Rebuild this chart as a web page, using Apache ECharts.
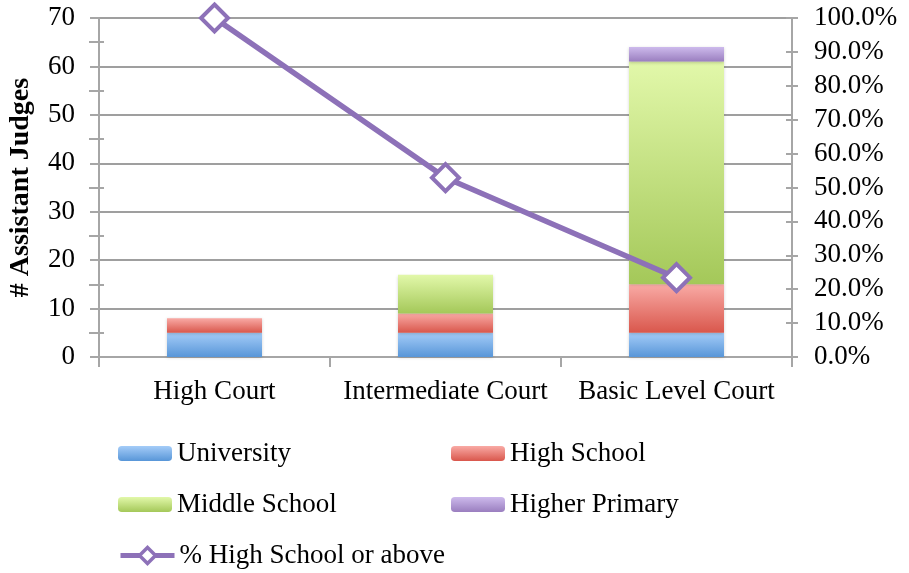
<!DOCTYPE html>
<html>
<head>
<meta charset="utf-8">
<script src="https://cdn.jsdelivr.net/npm/echarts@6/dist/echarts.min.js"></script>
<style>
  html, body { margin: 0; padding: 0; background: #ffffff; }
  #chart { width: 909px; height: 573px; }
</style>
</head>
<body>
<div id="chart"></div>
<script>
// Court levels along the x axis
var categories = ['High Court', 'Intermediate Court', 'Basic Level Court'];

// Number of assistant judges by education level
var university = [5, 5, 5];
var highSchool = [3, 4, 10];
var middleSchool = [0, 8, 46];
var higherPrimary = [0, 0, 3];

// Share with high school education or above (%)
var pctHighOrAbove = [100, 52.9, 23.4];

var FONT = '"Liberation Serif", "DejaVu Serif", serif';
var FONT_SIZE = 27;
var AXIS_GRAY = '#a6a6a6';
var LINE_PURPLE = '#8d71b8';

function grad(top, bottom) {
  return new echarts.graphic.LinearGradient(0, 0, 0, 1, [
    { offset: 0, color: top },
    { offset: 1, color: bottom }
  ]);
}

function barSeries(name, data, top, bottom) {
  return {
    name: name,
    type: 'bar',
    stack: 'edu',
    yAxisIndex: 0,
    barWidth: 95,
    data: data,
    itemStyle: {
      color: grad(top, bottom),
      shadowColor: 'rgba(0,0,0,0.18)',
      shadowBlur: 3,
      shadowOffsetY: 1
    },
    emphasis: { disabled: true }
  };
}

function legendAt(name, left, top, extra) {
  var opt = {
    data: [name],
    left: left,
    top: top,
    itemWidth: 54,
    itemHeight: 15,
    selectedMode: false,
    textStyle: { fontFamily: FONT, fontSize: FONT_SIZE, color: '#000' }
  };
  if (extra) {
    for (var k in extra) { opt[k] = extra[k]; }
  }
  return opt;
}

var chart = echarts.init(document.getElementById('chart'), null, { renderer: 'canvas' });

chart.setOption({
  animation: false,
  backgroundColor: '#ffffff',
  grid: {
    left: 99, right: 117, top: 18, bottom: 216,
    containLabel: false,
    outerBoundsMode: 'none'
  },
  legend: [
    legendAt('University', 113, 435),
    legendAt('High School', 446, 435),
    legendAt('Middle School', 113, 486),
    legendAt('Higher Primary', 446, 486),
    legendAt('% High School or above', 113, 537, {
      itemHeight: 20,
      lineStyle: { width: 5, color: LINE_PURPLE },
      itemStyle: { color: '#ffffff', borderColor: LINE_PURPLE, borderWidth: 3.5 }
    })
  ],
  xAxis: {
    type: 'category',
    data: categories,
    boundaryGap: true,
    axisLine: { lineStyle: { color: AXIS_GRAY, width: 2 } },
    axisTick: { show: true, length: 10, lineStyle: { color: AXIS_GRAY, width: 2 } },
    axisLabel: { interval: 0, fontFamily: FONT, fontSize: FONT_SIZE, color: '#000', margin: 21 }
  },
  yAxis: [
    {
      type: 'value',
      position: 'left',
      min: 0,
      max: 70,
      interval: 10,
      name: '# Assistant Judges',
      nameLocation: 'middle',
      nameGap: 64,
      nameTextStyle: { fontFamily: FONT, fontSize: 28, fontWeight: 'bold', color: '#000' },
      axisLine: { show: true, lineStyle: { color: AXIS_GRAY, width: 2 } },
      axisTick: { show: true, length: 9, lineStyle: { color: AXIS_GRAY, width: 2 } },
      minorTick: { show: true, splitNumber: 2, length: 10, lineStyle: { color: AXIS_GRAY, width: 2 } },
      splitLine: { show: true, lineStyle: { color: '#9f9f9f', width: 2 } },
      axisLabel: { fontFamily: FONT, fontSize: FONT_SIZE, color: '#000', margin: 24 }
    },
    {
      type: 'value',
      position: 'right',
      min: 0,
      max: 100,
      interval: 10,
      axisLine: { show: true, lineStyle: { color: AXIS_GRAY, width: 2 } },
      axisTick: { show: true, length: 6, lineStyle: { color: AXIS_GRAY, width: 2 } },
      splitLine: { show: false },
      axisLabel: {
        fontFamily: FONT, fontSize: FONT_SIZE, color: '#000', margin: 22,
        formatter: function (v) { return v.toFixed(1) + '%'; }
      }
    },
    {
      // inner half of the crossing minor ticks on the left axis
      type: 'value',
      position: 'left',
      min: 0,
      max: 70,
      interval: 5,
      axisLine: { show: false },
      axisTick: {
        show: true, inside: true, length: 5,
        customValues: [5, 15, 25, 35, 45, 55, 65],
        lineStyle: { color: AXIS_GRAY, width: 2 }
      },
      axisLabel: { show: false },
      splitLine: { show: false }
    },
    {
      // inner half of the crossing ticks on the right axis
      type: 'value',
      position: 'right',
      min: 0,
      max: 100,
      interval: 10,
      axisLine: { show: false },
      axisTick: { show: true, inside: true, length: 6, lineStyle: { color: AXIS_GRAY, width: 2 } },
      axisLabel: { show: false },
      splitLine: { show: false }
    }
  ],
  series: [
    barSeries('University', university, '#a4ccf8', '#5896d8'),
    barSeries('High School', highSchool, '#f9aaa5', '#d9574c'),
    barSeries('Middle School', middleSchool, '#e2f8aa', '#a4c859'),
    barSeries('Higher Primary', higherPrimary, '#cdbaec', '#9a7ebf'),
    {
      name: '% High School or above',
      type: 'line',
      yAxisIndex: 1,
      data: pctHighOrAbove,
      z: 5,
      symbol: 'diamond',
      symbolSize: 27,
      lineStyle: { color: LINE_PURPLE, width: 5.5 },
      itemStyle: { color: '#ffffff', borderColor: LINE_PURPLE, borderWidth: 4 },
      emphasis: { disabled: true }
    }
  ]
});
</script>
</body>
</html>
